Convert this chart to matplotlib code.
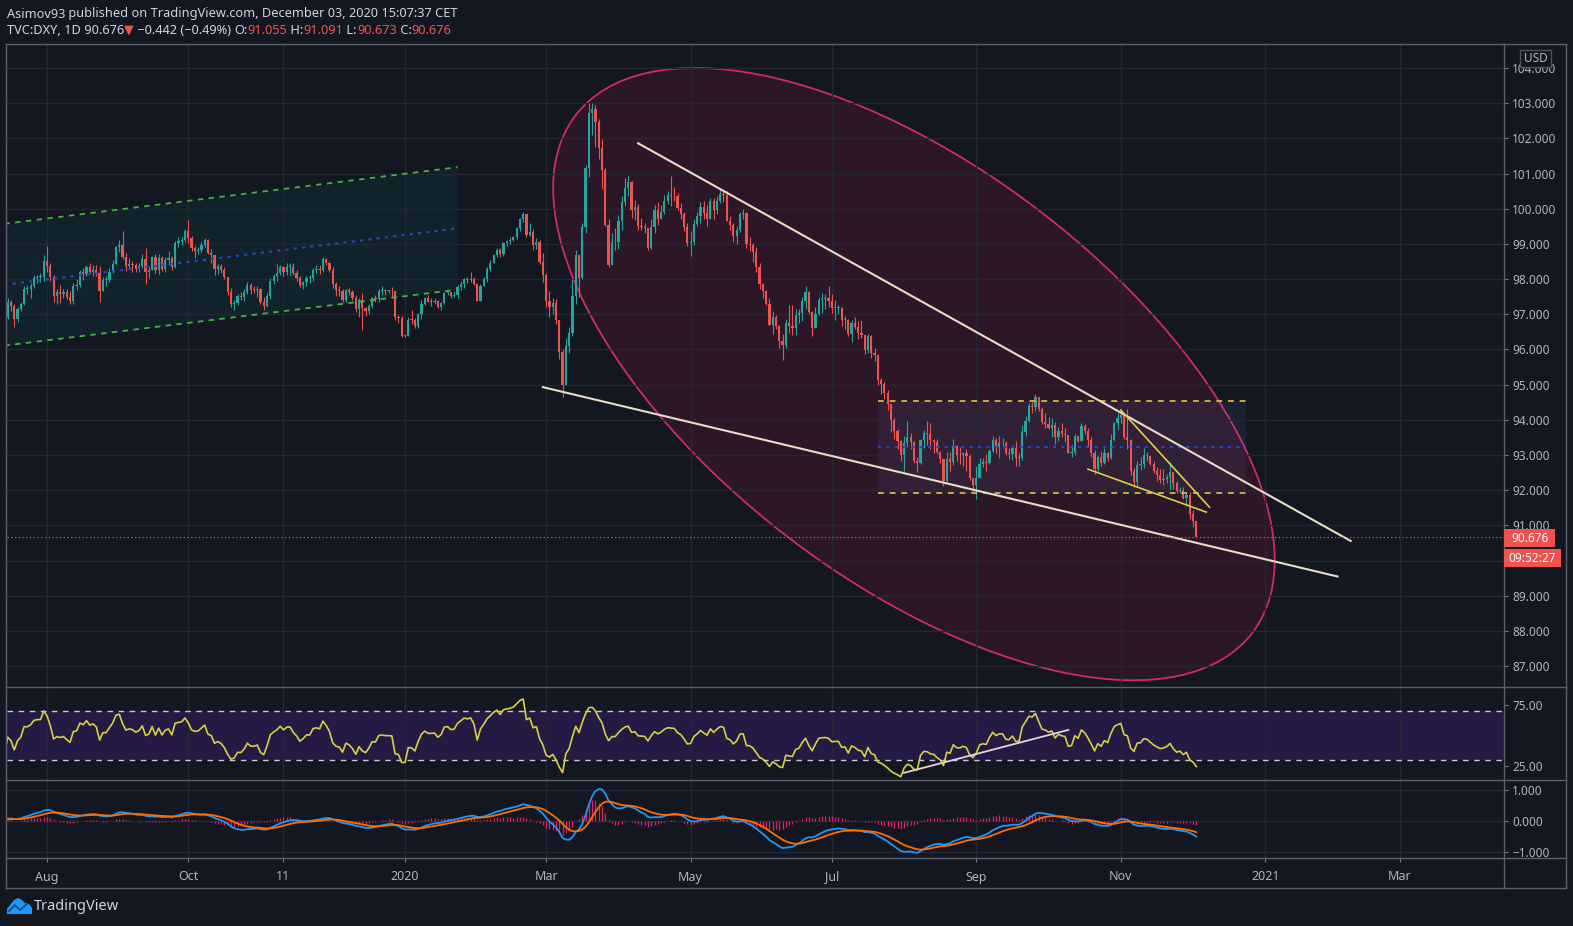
import numpy as np
import pandas as pd
import matplotlib
matplotlib.use("Agg")
import matplotlib.pyplot as plt
from matplotlib.patches import Ellipse, Rectangle, Polygon
from matplotlib.lines import Line2D
from matplotlib.transforms import Affine2D

# ---------------------------------------------------------
# Data: TVC:DXY daily bars (Jul 2019 - Dec 3 2020)
# first 11 bars (Jul 1-15 2019) sit left of the visible area
# ---------------------------------------------------------
closes = [
    96.85, 96.77, 96.76, 96.78, 97.29, 97.34, 97.49, 97.09, 96.81, 96.80, 96.92,
    97.36, 97.24, 96.86, 97.15, 97.28, 97.72, 97.72, 97.81, 98.02, 98.06, 98.06, 98.52,
    98.38, 98.07, 97.53, 97.63, 97.59, 97.63, 97.50, 97.39, 97.80, 97.83, 98.20, 98.14,
    98.35, 98.20, 98.26, 98.16, 97.65, 97.97, 97.97, 98.20, 98.44, 98.92,
    98.98, 98.64, 98.37, 98.43, 98.40, 98.30, 98.37, 98.58, 98.21, 98.27, 98.62, 98.26,
    98.61, 98.29, 98.55, 98.61, 98.34, 99.02, 99.08, 99.12, 99.38,
    99.18, 98.87, 98.80, 98.82, 98.97, 99.12, 98.74, 98.68, 98.30, 98.37, 98.27, 98.05,
    97.64, 97.28, 97.32, 97.52, 97.50, 97.62, 97.83, 97.69, 97.68, 97.72, 97.35,
    97.23, 97.51, 97.95, 98.08, 98.18, 98.35, 98.21, 98.34, 98.35, 98.16, 98.03, 97.82,
    97.91, 98.04, 98.04, 98.27, 98.30, 98.27, 98.57, 98.45, 98.27,
    97.85, 97.70, 97.66, 97.42, 97.70, 97.63, 97.46, 97.16, 97.40, 97.18, 97.09, 97.23,
    97.45, 97.43, 97.66, 97.68, 97.66, 97.66, 97.65, 96.93, 96.90, 96.39,
    96.39, 96.85, 96.84, 96.67, 97.00, 97.30, 97.45, 97.36, 97.36, 97.37, 97.22, 97.31,
    97.61, 97.62, 97.53, 97.55, 97.77, 97.87, 97.99, 97.97, 98.01, 97.87, 97.39,
    97.80, 98.01, 98.29, 98.47, 98.68, 98.83, 98.70, 99.02, 99.07, 99.12, 99.20, 99.44,
    99.72, 99.86, 99.25, 99.35, 98.98, 99.04, 98.50, 98.13,
    97.37, 97.21, 97.32, 96.84, 95.94, 94.98, 96.10, 96.47, 97.53, 98.68, 98.04, 99.48,
    101.17, 102.71, 102.82, 102.45, 101.73, 101.10, 99.55, 98.40, 99.04, 99.05,
    99.65, 100.20, 100.60, 100.75, 99.95, 100.05, 99.52, 99.48, 99.44, 98.89, 99.47, 99.95,
    99.72, 99.91, 100.22, 100.40, 100.37, 100.35, 100.01, 99.85, 99.48, 99.02,
    99.06, 99.57, 99.78, 100.06, 99.88, 99.72, 100.21, 99.97, 100.22, 100.43, 100.39, 99.65,
    99.54, 99.22, 99.40, 99.85, 99.87, 98.99, 98.97, 98.77, 98.35,
    97.85, 97.67, 97.28, 96.70, 96.93, 96.66, 96.23, 96.12, 96.75, 96.67, 96.61, 96.99,
    97.05, 97.38, 97.62, 97.07, 96.62, 97.01, 97.40, 97.43, 97.45, 97.39,
    97.17, 97.19, 97.19, 96.83, 96.84, 96.43, 96.74, 96.64, 96.46, 96.40, 95.99, 96.37,
    95.91, 95.83, 95.13, 95.02, 94.76, 94.44, 93.99, 93.67, 93.40, 93.00, 93.35,
    93.52, 93.36, 92.84, 92.77, 93.42, 93.62, 93.60, 93.42, 93.37, 93.10, 92.88, 92.26,
    92.89, 92.79, 93.25, 93.00, 92.99, 93.07, 92.97, 92.36, 92.14,
    92.35, 92.75, 92.81, 92.77, 93.12, 93.42, 93.24, 93.33, 93.33, 93.05, 93.04, 93.20,
    92.93, 92.93, 93.65, 93.98, 94.39, 94.36, 94.64, 94.30, 93.93, 93.89,
    93.78, 93.85, 93.50, 93.69, 93.61, 93.58, 93.06, 93.09, 93.53, 93.40, 93.83, 93.69,
    93.43, 93.07, 92.60, 92.95, 92.77, 93.06, 92.93, 93.44, 93.90, 94.04,
    94.13, 93.51, 93.44, 92.55, 92.23, 92.73, 92.75, 93.00, 92.96, 92.76, 92.56, 92.43,
    92.30, 92.33, 92.39, 92.52, 92.21, 91.98, 92.02, 91.79, 91.87,
    91.32, 91.12, 90.676,
]
highs = [
    96.98, 96.95, 96.90, 96.86, 97.37, 97.44, 97.58, 97.57, 97.17, 96.95, 97.00,
    97.45, 97.42, 97.28, 97.20, 97.35, 97.80, 97.83, 97.89, 98.12, 98.12, 98.18, 98.69,
    98.93, 98.45, 98.12, 97.73, 97.83, 97.71, 97.72, 97.65, 97.89, 98.00, 98.26, 98.32,
    98.40, 98.46, 98.39, 98.40, 98.36, 98.05, 98.10, 98.31, 98.55, 98.94,
    99.10, 99.37, 98.74, 98.60, 98.51, 98.45, 98.45, 98.70, 98.88, 98.38, 98.65, 98.70,
    98.70, 98.66, 98.64, 98.80, 98.65, 99.08, 99.20, 99.20, 99.42,
    99.67, 99.22, 98.95, 98.92, 99.04, 99.18, 99.14, 98.85, 98.69, 98.43, 98.42, 98.33,
    98.06, 97.75, 97.40, 97.57, 97.62, 97.71, 97.91, 97.90, 97.80, 97.80, 97.75,
    97.50, 97.60, 98.02, 98.15, 98.43, 98.40, 98.36, 98.45, 98.46, 98.45, 98.25, 98.08,
    97.95, 98.10, 98.12, 98.32, 98.40, 98.40, 98.63, 98.60, 98.50,
    98.34, 97.92, 97.81, 97.71, 97.73, 97.75, 97.68, 97.55, 97.45, 97.60, 97.20, 97.30,
    97.50, 97.55, 97.73, 97.80, 97.72, 97.70, 97.78, 97.61, 96.99, 96.95,
    96.45, 96.91, 97.11, 96.89, 97.05, 97.42, 97.50, 97.56, 97.45, 97.45, 97.41, 97.35,
    97.64, 97.65, 97.64, 97.67, 97.82, 97.95, 98.02, 98.07, 98.19, 98.05, 97.90,
    97.86, 98.05, 98.34, 98.55, 98.71, 98.89, 98.88, 99.04, 99.12, 99.19, 99.22, 99.48,
    99.75, 99.91, 99.86, 99.59, 99.42, 99.18, 99.12, 98.73,
    98.16, 97.67, 97.46, 97.44, 96.85, 96.00, 96.34, 96.65, 98.00, 98.84, 98.60, 99.60,
    101.25, 102.99, 103.00, 102.96, 102.55, 101.98, 101.15, 99.70, 99.30, 99.45,
    99.82, 100.35, 100.86, 100.93, 100.78, 100.26, 100.13, 99.75, 99.60, 99.42, 99.70, 100.10,
    100.19, 100.10, 100.40, 100.50, 100.93, 100.62, 100.45, 100.17, 99.90, 99.60,
    99.37, 99.70, 99.90, 100.20, 100.21, 100.10, 100.30, 100.30, 100.36, 100.56, 100.50, 100.49,
    99.80, 99.60, 99.50, 99.90, 99.98, 99.90, 99.20, 99.02, 98.90,
    98.45, 97.88, 97.70, 97.47, 97.10, 96.97, 96.70, 96.45, 96.88, 97.26, 97.26, 97.15,
    97.14, 97.50, 97.80, 97.65, 97.10, 97.21, 97.49, 97.61, 97.59, 97.81,
    97.58, 97.41, 97.27, 97.20, 96.96, 96.87, 96.84, 96.93, 96.80, 96.84, 96.41, 96.45,
    96.40, 96.05, 95.88, 95.20, 95.09, 94.84, 94.46, 94.06, 93.74, 93.44, 93.55,
    93.98, 93.62, 93.40, 92.95, 93.46, 93.71, 93.98, 93.92, 93.46, 93.45, 93.12, 92.90,
    93.08, 93.08, 93.47, 93.28, 93.23, 93.10, 93.18, 93.04, 92.36,
    92.69, 92.92, 92.93, 93.02, 93.16, 93.55, 93.48, 93.54, 93.49, 93.41, 93.20, 93.30,
    93.40, 93.06, 93.86, 94.12, 94.48, 94.51, 94.74, 94.65, 94.37, 94.20,
    94.08, 94.05, 93.95, 93.80, 93.90, 93.76, 93.55, 93.30, 93.61, 93.55, 93.92, 93.89,
    93.77, 93.50, 93.15, 93.01, 93.12, 93.20, 93.08, 93.60, 93.95, 94.19,
    94.30, 94.14, 94.31, 93.46, 92.63, 92.84, 92.95, 93.21, 93.09, 93.00, 92.83, 92.66,
    92.59, 92.60, 92.47, 92.80, 92.53, 92.26, 92.10, 92.10, 91.93,
    91.94, 91.43, 91.091,
]
lows = [
    96.42, 96.65, 96.66, 96.70, 96.75, 97.15, 97.27, 97.03, 96.79, 96.64, 96.75,
    96.87, 97.08, 96.65, 96.77, 97.10, 97.25, 97.58, 97.47, 97.75, 97.88, 97.92, 97.96,
    98.20, 97.95, 97.36, 97.30, 97.33, 97.45, 97.44, 97.29, 97.30, 97.68, 97.78, 97.98,
    98.08, 98.17, 98.10, 98.08, 97.36, 97.75, 97.80, 97.92, 98.18, 98.42,
    98.78, 98.58, 98.23, 98.30, 98.19, 98.21, 98.20, 98.32, 97.85, 98.04, 98.34, 98.18,
    98.15, 98.24, 98.20, 98.40, 98.25, 98.31, 98.92, 98.98, 99.05,
    99.02, 98.81, 98.60, 98.70, 98.76, 98.92, 98.70, 98.46, 98.12, 98.14, 98.17, 97.99,
    97.56, 97.20, 97.12, 97.25, 97.40, 97.38, 97.58, 97.58, 97.60, 97.50, 97.30,
    97.11, 97.20, 97.44, 97.87, 97.95, 98.12, 98.10, 98.13, 98.12, 98.11, 97.96, 97.77,
    97.73, 97.80, 97.90, 97.95, 98.18, 98.15, 98.20, 98.40, 98.20,
    97.76, 97.52, 97.52, 97.35, 97.35, 97.55, 97.42, 97.06, 96.91, 96.56, 96.95, 97.02,
    97.18, 97.35, 97.35, 97.55, 97.55, 97.60, 97.50, 96.85, 96.74, 96.36,
    96.36, 96.37, 96.73, 96.60, 96.60, 96.87, 97.27, 97.34, 97.23, 97.28, 97.17, 97.12,
    97.29, 97.55, 97.47, 97.48, 97.45, 97.68, 97.75, 97.89, 97.93, 97.83, 97.37,
    97.42, 97.79, 97.92, 98.23, 98.46, 98.62, 98.63, 98.67, 98.95, 98.99, 99.07, 99.14,
    99.38, 99.62, 99.20, 99.23, 98.83, 98.85, 98.42, 97.93,
    97.20, 96.93, 97.00, 96.73, 95.74, 94.65, 95.00, 95.91, 96.37, 97.29, 97.50, 98.00,
    99.30, 100.90, 102.09, 101.75, 101.40, 100.57, 99.52, 98.33, 98.84, 98.84,
    98.85, 99.40, 100.09, 100.35, 99.74, 99.68, 99.40, 99.40, 99.30, 98.83, 98.85, 99.30,
    99.55, 99.70, 99.85, 100.14, 100.09, 100.22, 99.95, 99.70, 99.36, 98.93,
    98.65, 98.98, 99.50, 99.60, 99.70, 99.50, 99.70, 99.70, 99.85, 100.16, 100.20, 99.65,
    99.39, 99.05, 99.00, 99.35, 99.70, 98.88, 98.80, 98.50, 98.20,
    97.72, 97.45, 97.26, 96.69, 96.44, 96.59, 96.04, 95.71, 96.03, 96.48, 96.42, 96.40,
    96.75, 96.80, 97.15, 97.00, 96.38, 96.70, 96.98, 97.05, 97.16, 97.20,
    97.05, 96.83, 97.01, 96.68, 96.58, 96.37, 96.22, 96.59, 96.30, 96.32, 95.88, 95.90,
    95.76, 95.68, 95.00, 94.73, 94.60, 94.28, 93.65, 93.45, 93.18, 92.84, 92.55,
    93.24, 93.17, 92.78, 92.52, 92.75, 93.19, 93.30, 93.17, 93.06, 93.04, 92.77, 92.12,
    92.22, 92.54, 92.71, 92.84, 92.75, 92.70, 92.56, 92.30, 91.96,
    91.75, 92.37, 92.67, 92.56, 92.75, 93.10, 93.06, 92.93, 93.19, 93.00, 92.90, 92.87,
    92.70, 92.70, 92.87, 93.54, 93.94, 94.19, 94.26, 94.25, 93.87, 93.78,
    93.75, 93.52, 93.32, 93.39, 93.50, 93.38, 93.05, 92.95, 93.00, 93.36, 93.43, 93.59,
    93.23, 92.94, 92.47, 92.56, 92.69, 92.74, 92.82, 92.88, 93.41, 93.70,
    93.92, 93.45, 93.16, 92.43, 92.10, 92.13, 92.58, 92.64, 92.82, 92.72, 92.50, 92.25,
    92.20, 92.14, 92.22, 92.01, 92.04, 91.92, 91.92, 91.76, 91.55,
    91.18, 90.96, 90.673,
]
first_open = 96.72
last_price = 90.676

# price axis labels (90.000 is hidden behind the countdown box in the original)
price_ticks = list(range(87, 105))
price_labels = ["" if v == 90 else f"{v:.3f}" for v in price_ticks]

# time axis labels
tick_dates = ["2019-08-01", "2019-10-01", "2019-11-11", "2020-01-01", "2020-03-02",
              "2020-05-01", "2020-07-01", "2020-09-01", "2020-11-02", "2021-01-01", "2021-03-01"]
tick_labels = ["Aug", "Oct", "11", "2020", "Mar", "May", "Jul", "Sep", "Nov", "2021", "Mar"]

# drawings on the chart: (date, value) anchors
channel_dates = ["2019-07-15", "2020-01-23"]
channel_upper = [99.57, 101.18]
channel_lower = [96.11, 97.70]
box_dates = ["2020-07-21", "2020-12-24"]
box_prices = [94.55, 91.92]
trend_top = [("2020-04-09", 101.86), ("2021-02-08", 90.56)]
trend_bottom = [("2020-02-28", 94.93), ("2021-02-02", 89.55)]
wedge_upper = [("2020-11-02", 94.28), ("2020-12-09", 91.52)]
wedge_lower = [("2020-10-19", 92.60), ("2020-12-08", 91.38)]
ellipse_center = ("2020-08-05", 95.30)
rsi_line = [("2020-07-31", 19.0), ("2020-10-09", 54.4)]

# ---------------------------------------------------------
# Styles
# ---------------------------------------------------------
W, H = 1573, 926
BG = "#131722"
GRID = "#232733"
BORDER = "#5d606b"
TEXT = "#d1d4dc"
AXTEXT = "#b2b5be"
UP = "#26a69a"
DOWN = "#ef5350"

plt.rcParams["font.family"] = ["Noto Sans", "DejaVu Sans"]

n = min(len(closes), len(highs), len(lows))
c = np.array(closes[:n])
h = np.array(highs[:n])
l = np.array(lows[:n])
o = np.r_[first_open, c[:-1]]
h = np.maximum(h, np.maximum(o, c))
l = np.minimum(l, np.minimum(o, c))
x = np.arange(n)

all_days = pd.bdate_range("2019-07-01", "2021-06-30")


def pos(d):
    return int(all_days.searchsorted(pd.Timestamp(d)))


aug1 = pos("2019-08-01")
XLIM = (aug1 - 12.2, aug1 + 443.7)
tick_pos = [pos(d) for d in tick_dates]

# indicators (RSI 14, MACD 12/26/9)
s = pd.Series(c)
d = s.diff()
ag = d.clip(lower=0).ewm(alpha=1 / 14, adjust=False).mean()
al = (-d.clip(upper=0)).ewm(alpha=1 / 14, adjust=False).mean()
rsi = 100 - 100 / (1 + ag / al)
macd = s.ewm(span=12, adjust=False).mean() - s.ewm(span=26, adjust=False).mean()
signal = macd.ewm(span=9, adjust=False).mean()
hist = macd - signal

# ---------------------------------------------------------
# Figure and panes
# ---------------------------------------------------------
fig = plt.figure(figsize=(W / 100, H / 100), dpi=100, facecolor=BG)


def px_axes(x0, y0, x1, y1):
    ax = fig.add_axes([x0 / W, 1 - y1 / H, (x1 - x0) / W, (y1 - y0) / H])
    ax.set_facecolor(BG)
    for sp in ax.spines.values():
        sp.set_visible(False)
    ax.set_xlim(*XLIM)
    ax.set_xticks(tick_pos)
    ax.grid(axis="x", color=GRID, lw=1, zorder=0)
    ax.grid(axis="y", color=GRID, lw=1, zorder=0)
    ax.yaxis.tick_right()
    ax.tick_params(axis="y", length=3, color="#787b86", labelcolor=AXTEXT, labelsize=8.5, pad=3)
    ax.tick_params(axis="x", length=0, labelbottom=False)
    return ax


ax = px_axes(7, 44, 1504, 687)
ax_rsi = px_axes(7, 687, 1504, 780)
ax_macd = px_axes(7, 780, 1504, 858)

# ---------------------------------------------------------
# Main price pane
# ---------------------------------------------------------
ax.set_ylim(86.41, 104.68)
ax.set_yticks(price_ticks)
ax.set_yticklabels(price_labels)

# left rising channel
cx = [pos(dd) for dd in channel_dates]
ax.fill_between(cx, channel_lower, channel_upper, color="#009688", alpha=0.09, lw=0, zorder=1)
ax.plot(cx, channel_upper, color="#43b443", lw=1.3, ls=(0, (3, 3)), zorder=5)
ax.plot(cx, channel_lower, color="#43b443", lw=1.3, ls=(0, (3, 3)), zorder=5)
ax.plot(cx, [(a + b) / 2 for a, b in zip(channel_upper, channel_lower)],
        color="#2a45c8", lw=1.5, ls=(0, (1.5, 2.5)), zorder=5)

# ellipse, sized in screen pixels around a date/price centre
bb = ax.get_window_extent()
sx = bb.width / (XLIM[1] - XLIM[0])
sy = bb.height / (104.68 - 86.41)
ecx, ecy = pos(ellipse_center[0]), ellipse_center[1]
ell_tr = Affine2D().scale(1 / sx, 1 / sy) + ax.transData
ax.add_patch(Ellipse((ecx * sx, ecy * sy), 2 * 426, 2 * 206, angle=-37.4, transform=ell_tr,
                     facecolor=(0.91, 0.12, 0.39, 0.12), edgecolor="#d02a68", lw=1.3, zorder=1))

# consolidation box
bx = [pos(dd) for dd in box_dates]
ax.fill_between(bx, box_prices[1], box_prices[0], color="#6a7fb0", alpha=0.10, lw=0, zorder=1)
for p in box_prices:
    ax.plot(bx, [p, p], color="#e2c440", lw=1.2, ls=(0, (3.5, 3.5)), zorder=5)
ax.plot(bx, [sum(box_prices) / 2] * 2, color="#2a45c8", lw=1.5, ls=(0, (1.5, 2.5)), zorder=5)

# candles
cols = np.where(c >= o, UP, DOWN)
ax.vlines(x, l, h, colors=cols, lw=0.8, zorder=3)
ax.bar(x, np.maximum(np.abs(c - o), 0.025), bottom=np.minimum(o, c), width=0.68,
       color=cols, lw=0, zorder=4)

# trend lines
for seg, col, lw in [(trend_top, "#e8dcc8", 1.5), (trend_bottom, "#e8dcc8", 1.5),
                     (wedge_upper, "#dccf45", 1.2), (wedge_lower, "#dccf45", 1.2)]:
    ax.plot([pos(seg[0][0]), pos(seg[1][0])], [seg[0][1], seg[1][1]], color=col, lw=lw, zorder=6)

ax.axhline(last_price, color=DOWN, lw=0.9, ls=(0, (1, 2)), zorder=6)

# ---------------------------------------------------------
# RSI pane
# ---------------------------------------------------------
ax_rsi.set_ylim(13.1, 89.8)
ax_rsi.set_yticks([25, 75])
ax_rsi.set_yticklabels(["25.00", "75.00"])
ax_rsi.grid(axis="y", visible=False)
ax_rsi.axhspan(30, 70, color="#241a44", lw=0, zorder=0.5)
for lvl in (30, 70):
    ax_rsi.axhline(lvl, color="#c9cbd2", lw=1, ls=(0, (4, 4)), zorder=2)
ax_rsi.plot(x, rsi, color="#d9cf45", lw=1.2, zorder=4)
ax_rsi.plot([pos(rsi_line[0][0]), pos(rsi_line[1][0])], [rsi_line[0][1], rsi_line[1][1]],
            color="#e6d0dc", lw=1.3, zorder=5)

# ---------------------------------------------------------
# MACD pane
# ---------------------------------------------------------
ax_macd.set_ylim(-1.21, 1.325)
ax_macd.set_yticks([-1, 0, 1])
ax_macd.set_yticklabels(["\u22121.000", "0.000", "1.000"])
ax_macd.vlines(x, 0, hist, colors="#e91e63", lw=0.9, zorder=2)
ax_macd.plot(x, macd, color="#2196f3", lw=1.3, zorder=3)
ax_macd.plot(x, signal, color="#ff6d00", lw=1.3, zorder=3)
ax_macd.tick_params(axis="x", length=3, color="#787b86", labelbottom=True,
                    labelcolor=AXTEXT, labelsize=9, pad=6, direction="out")
ax_macd.set_xticklabels(tick_labels)

# ---------------------------------------------------------
# Frame, labels and header
# ---------------------------------------------------------
def fig_line(x0, y0, x1, y1, color=BORDER):
    fig.add_artist(Line2D([x0 / W, x1 / W], [1 - y0 / H, 1 - y1 / H], color=color, lw=1,
                          transform=fig.transFigure, zorder=20))


for yy in (44, 687, 780, 858, 888):
    fig_line(6, yy, 1566, yy)
for xx in (6, 1504, 1566):
    fig_line(xx, 44, xx, 888)


def fig_box(x0, y0, x1, y1, label, face, edge="none", color="white"):
    fig.add_artist(Rectangle((x0 / W, 1 - y1 / H), (x1 - x0) / W, (y1 - y0) / H,
                             transform=fig.transFigure, facecolor=face, edgecolor=edge,
                             lw=1, zorder=21))
    fig.text((x0 + x1) / 2 / W, 1 - (y0 + y1) / 2 / H, label, color=color, fontsize=8.5,
             ha="center", va="center", zorder=22)


fig_box(1504, 529, 1555, 547, f"{last_price:.3f}", DOWN)
fig_box(1504, 549, 1561, 567, "09:52:27", DOWN)
fig_box(1520, 50, 1551, 67, "USD", BG, edge="#50535e", color=AXTEXT)

renderer = fig.canvas.get_renderer()


def text_run(x0, y, parts, size=9.2):
    for txt, col, weight in parts:
        t = fig.text(x0 / W, 1 - y / H, txt, color=col, fontsize=size, fontweight=weight,
                     ha="left", va="center")
        x0 += t.get_window_extent(renderer=renderer).width


text_run(7, 14, [("Asimov93", TEXT, "bold"),
                 (" published on TradingView.com, December 03, 2020 15:07:37 CET", TEXT, "normal")])
text_run(7, 30, [("TVC:DXY, 1D", TEXT, "bold"), (" 90.676", TEXT, "normal"),
                 ("\u25bc", DOWN, "normal"), (" \u22120.442 (\u22120.49%) ", TEXT, "normal"),
                 ("O:", TEXT, "bold"), ("91.055", DOWN, "normal"),
                 (" H:", TEXT, "bold"), ("91.091", DOWN, "normal"),
                 (" L:", TEXT, "bold"), ("90.673", DOWN, "normal"),
                 (" C:", TEXT, "bold"), ("90.676", DOWN, "normal")])

# TradingView logo
cloud = [(7, 914), (7, 909), (10, 905), (14, 900), (18, 898), (22, 900), (25, 903),
         (29, 904), (32, 908), (32, 914)]
fig.add_artist(Polygon([(px / W, 1 - py / H) for px, py in cloud], closed=True,
                       transform=fig.transFigure, facecolor="#2196f3", edgecolor="none"))
ridge = [(9, 911), (15, 905), (20, 910), (27, 904)]
fig.add_artist(Line2D([px / W for px, _ in ridge], [1 - py / H for _, py in ridge],
                      color="#0d47a1", lw=1.2, transform=fig.transFigure))
fig.text(34 / W, 1 - 907 / H, "TradingView", color=TEXT, fontsize=10.5, ha="left", va="center")

fig.savefig("out.png", dpi=100, facecolor=BG)
